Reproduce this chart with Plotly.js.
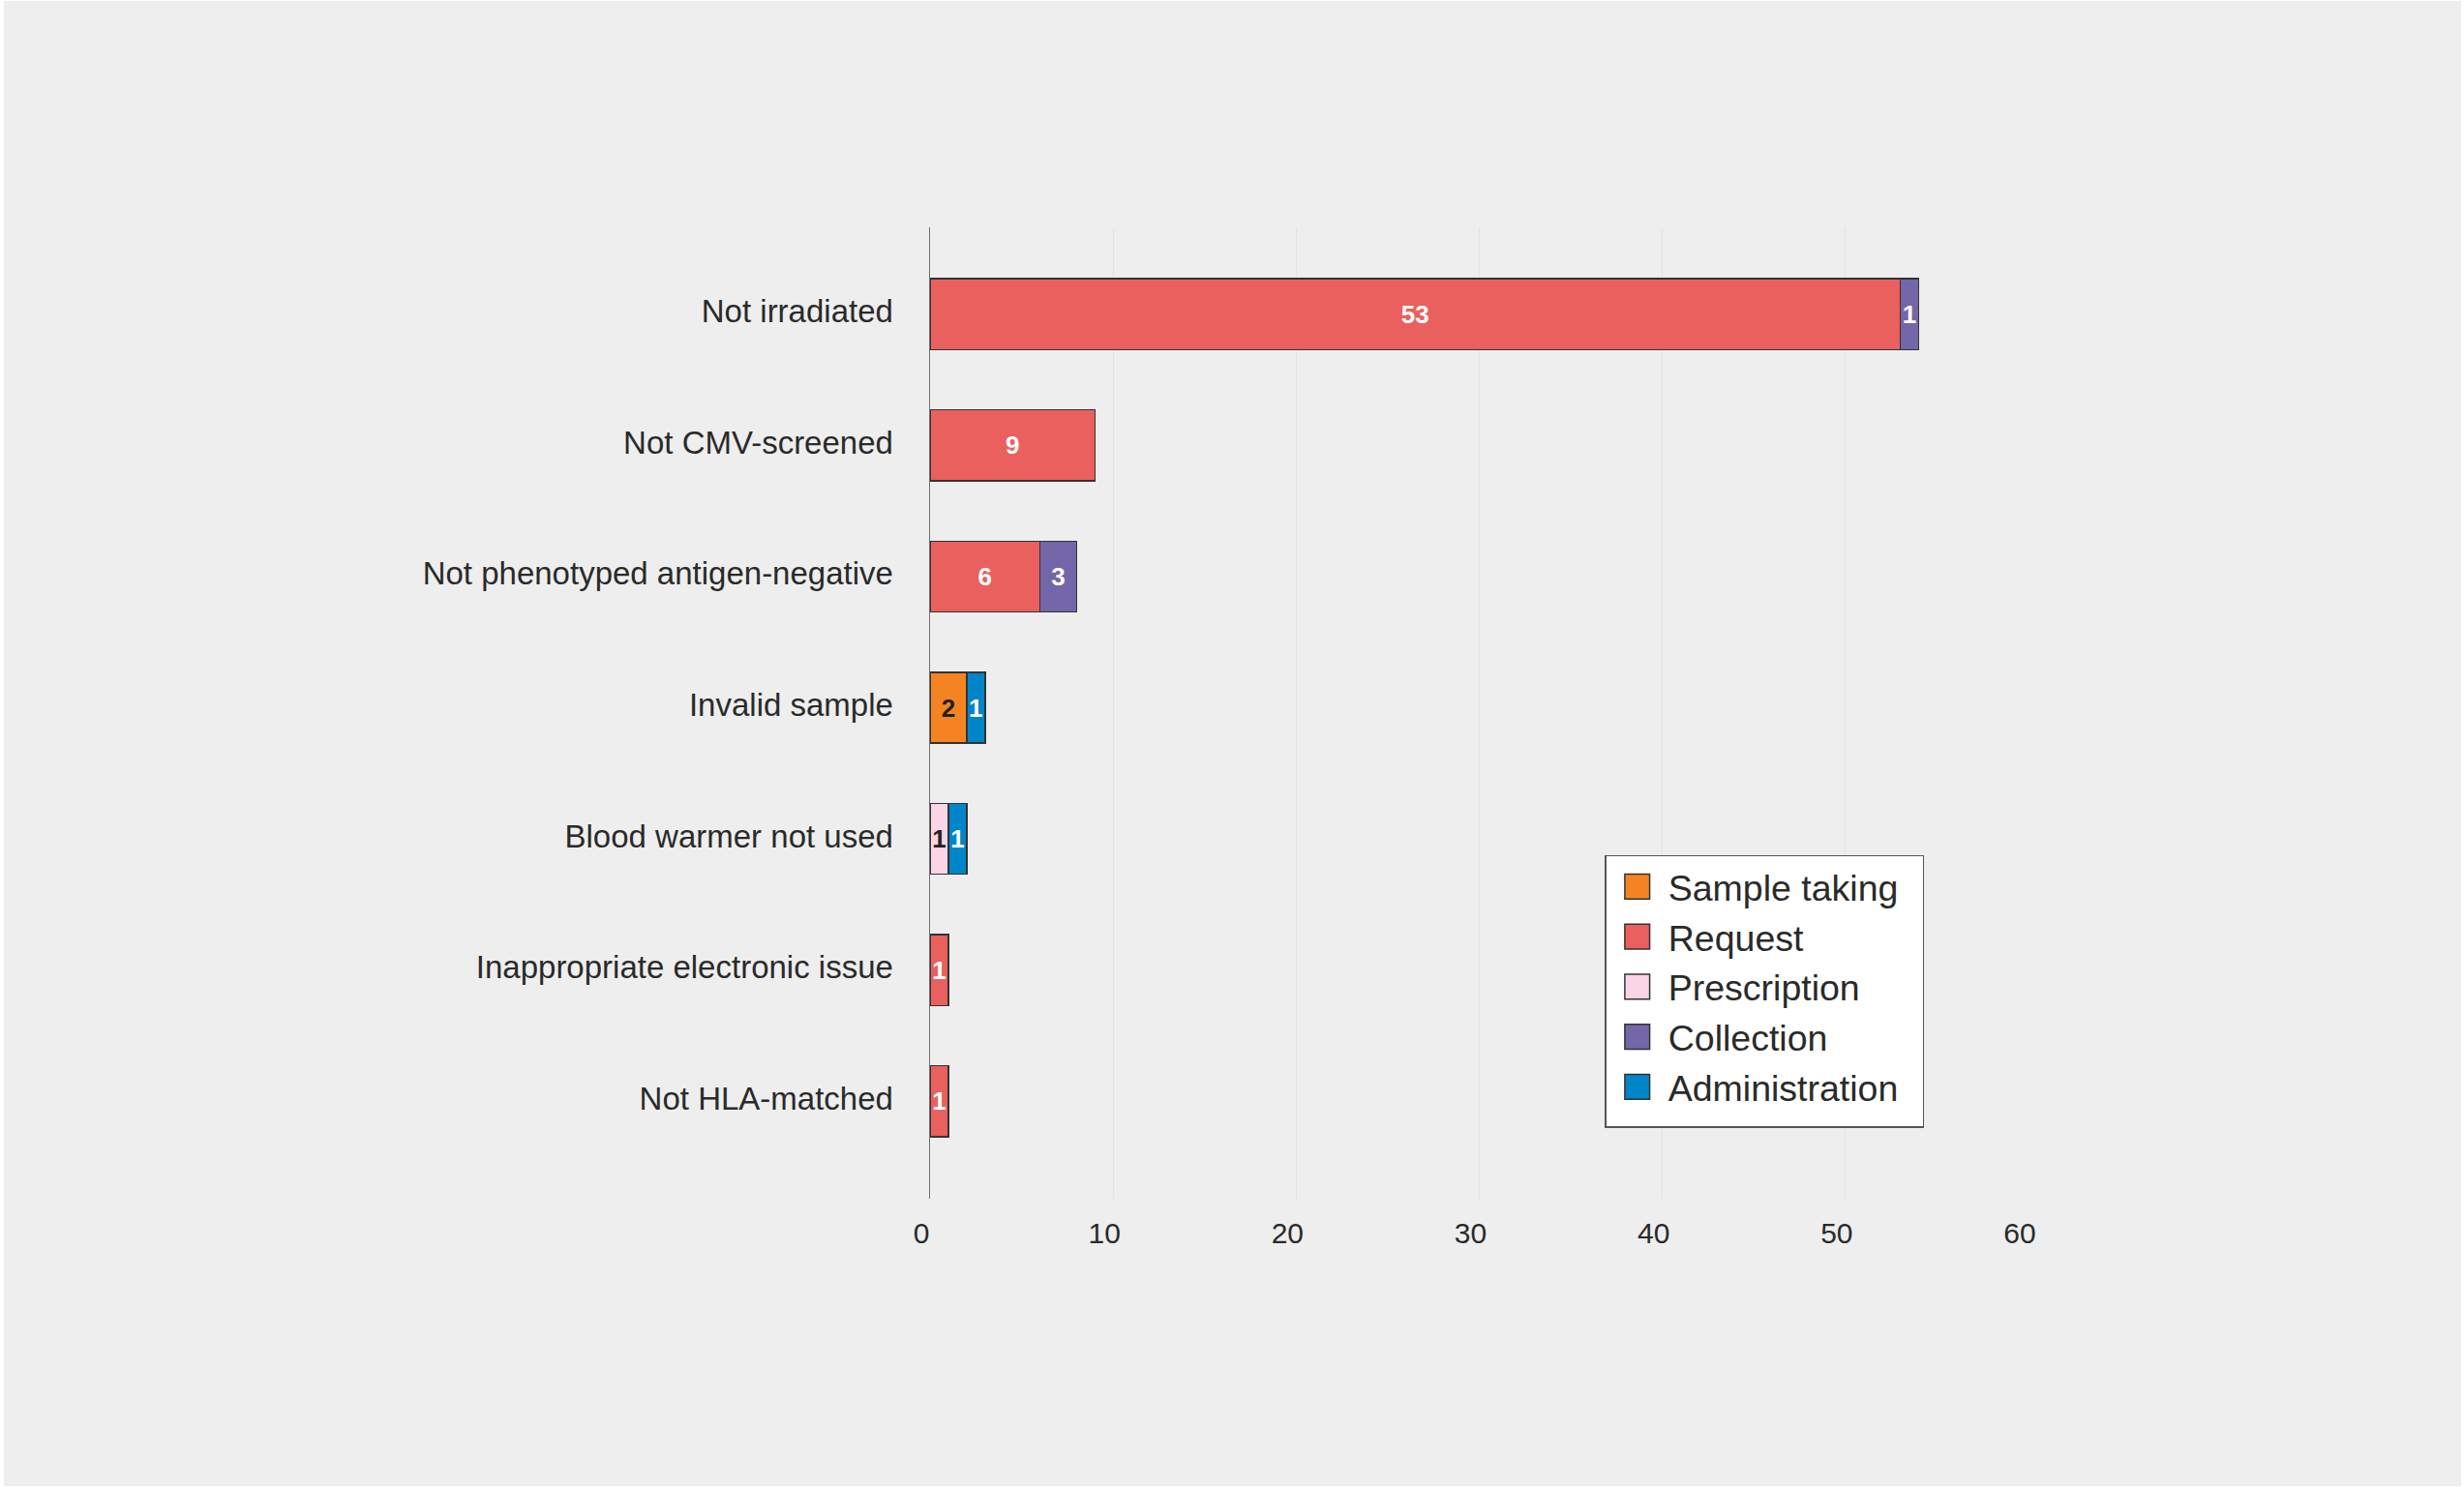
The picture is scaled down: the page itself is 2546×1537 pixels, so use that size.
<!DOCTYPE html>
<html>
<head>
<meta charset="utf-8">
<script src="https://cdn.plot.ly/plotly-3.0.1.min.js"></script>
<style>
  html, body { margin: 0; padding: 0; background: #ffffff; width: 2546px; height: 1537px; overflow: hidden; }
  #chart { position: absolute; left: 4px; top: 1px; width: 2539px; height: 1535px; }
</style>
</head>
<body>
<div id="chart"></div>
<script>
// Categories, top to bottom
const categories = [
  "Not irradiated",
  "Not CMV-screened",
  "Not phenotyped antigen-negative",
  "Invalid sample",
  "Blood warmer not used",
  "Inappropriate electronic issue",
  "Not HLA-matched"
];

// Series values as drawn (bar lengths; null = none)
const sampleTaking   = [null, null, null, 2, null, null, null];
const request        = [53, 9, 6, null, null, 1, 1];
const prescription   = [null, null, null, null, 1, null, null];
const collection     = [1, null, 2, null, null, null, null];
const administration = [null, null, null, 1, 1, null, null];

// Printed labels (the chart prints "3" on the Collection segment of row 3)
const sampleTakingLabels   = sampleTaking;
const requestLabels        = request;
const prescriptionLabels   = prescription;
const collectionLabels     = [1, null, 3, null, null, null, null];
const administrationLabels = administration;

const seriesNames  = ["Sample taking", "Request", "Prescription", "Collection", "Administration"];
const seriesValues = [sampleTaking, request, prescription, collection, administration];
const seriesLabels = [sampleTakingLabels, requestLabels, prescriptionLabels, collectionLabels, administrationLabels];
const seriesColors = ["#F48422", "#E9605E", "#F9D5E5", "#7366A9", "#0085C8"];
const textColors   = ["#222222", "#ffffff", "#222222", "#ffffff", "#ffffff"];

const xTicks = [0, 10, 20, 30, 40, 50, 60];

const FONT = "'Liberation Sans', Arial, Helvetica, sans-serif";

const traces = seriesNames.map((name, i) => ({
  type: "bar",
  orientation: "h",
  name: name,
  y: categories,
  x: seriesValues[i],
  marker: { color: seriesColors[i], line: { color: "#333333", width: 1.5 } },
  text: seriesLabels[i].map(v => v === null ? "" : String(v)),
  texttemplate: "%{text}",
  textposition: "inside",
  insidetextanchor: "middle",
  constraintext: "none",
  textangle: 0,
  textfont: { family: FONT, size: 26, color: textColors[i], weight: "bold" },
  hoverinfo: "name+x"
}));

const layout = {
  width: 2539,
  height: 1535,
  paper_bgcolor: "#eeeeee",
  plot_bgcolor: "#eeeeee",
  barmode: "stack",
  bargap: 0.46,
  margin: { l: 957, r: 447, t: 234, b: 297, pad: 0 },
  font: { family: FONT, color: "#2a2a2a" },
  xaxis: {
    range: [0, 60],
    tickvals: xTicks,
    ticktext: xTicks.map(String),
    showgrid: true,
    gridcolor: "#e3e3e3",
    gridwidth: 1,
    zeroline: false,
    showline: false,
    ticks: "",
    ticklabelshift: -9,
    ticklabelstandoff: 15,
    tickfont: { family: FONT, size: 30, color: "#2a2a2a" },
    fixedrange: true
  },
  yaxis: {
    type: "category",
    categoryorder: "array",
    categoryarray: categories,
    range: [6.743, -0.662],
    showgrid: false,
    zeroline: false,
    showline: true,
    linecolor: "#707070",
    linewidth: 1.5,
    ticks: "",
    ticklabelstandoff: 30,
    ticklabelshift: 3,
    tickfont: { family: FONT, size: 33, color: "#2a2a2a" },
    fixedrange: true
  },
  legend: {
    x: 0.6143,
    y: 0.3536,
    xanchor: "left",
    yanchor: "top",
    bgcolor: "#ffffff",
    bordercolor: "#555555",
    borderwidth: 1.5,
    traceorder: "normal",
    itemwidth: 54,
    font: { family: FONT, size: 37.5, color: "#2a2a2a" }
  },
  showlegend: true
};

Plotly.newPlot("chart", traces, layout, { displayModeBar: false, staticPlot: true }).then(gd => {
  gd.querySelectorAll(".legend .legendpoints path").forEach(p => {
    const t = p.getAttribute("transform") || "";
    p.setAttribute("transform", t + " scale(2.14)");
    p.style.vectorEffect = "non-scaling-stroke";
  });
  gd.querySelectorAll(".legend rect.bg").forEach(r => {
    const w = parseFloat(r.getAttribute("width"));
    const h = parseFloat(r.getAttribute("height"));
    r.setAttribute("width", w + 20);
    r.setAttribute("height", h + 10);
  });
});
</script>
</body>
</html>
